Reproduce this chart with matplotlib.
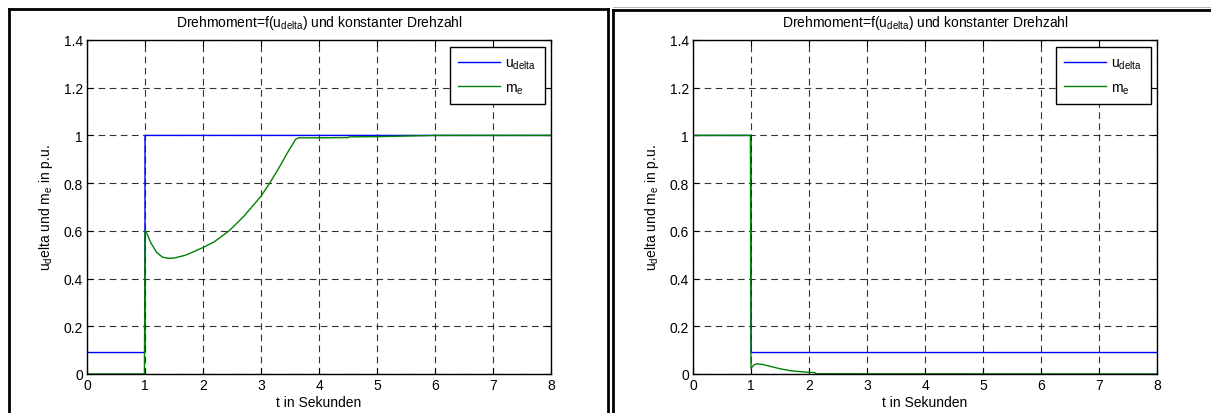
import matplotlib
matplotlib.use("Agg")
import matplotlib.pyplot as plt
from matplotlib.lines import Line2D

plt.rcParams["font.family"] = ["Liberation Sans", "DejaVu Sans"]
plt.rcParams["mathtext.fontset"] = "custom"
plt.rcParams["mathtext.rm"] = "Liberation Sans"
plt.rcParams["mathtext.it"] = "Liberation Sans"
plt.rcParams["mathtext.default"] = "regular"
plt.rcParams["font.size"] = 10

# Step of the voltage deviation and resulting torque (left: step up)
t_u_up = [0.0, 0.999, 1.0, 8.0]
u_up = [0.09, 0.09, 1.0, 1.0]
t_m_up = [0.0, 0.99, 1.0, 1.03, 1.1, 1.2, 1.3, 1.4, 1.5, 1.7, 2.0, 2.2, 2.45,
          2.7, 3.0, 3.15, 3.3, 3.45, 3.6, 3.65, 4.0, 4.5, 4.52, 5.0, 6.0, 8.0]
m_up = [0.0, 0.0, 0.6, 0.59, 0.55, 0.51, 0.49, 0.485, 0.486, 0.498, 0.53, 0.555, 0.6,
        0.66, 0.745, 0.8, 0.86, 0.925, 0.985, 0.99, 0.99, 0.991, 0.994, 0.995, 1.0, 1.0]

# Step down of the voltage deviation (right)
t_u_down = [0.0, 0.999, 1.0, 8.0]
u_down = [1.0, 1.0, 0.09, 0.09]
t_m_down = [0.0, 0.99, 1.0, 1.05, 1.1, 1.2, 1.3, 1.5, 1.7, 1.85, 2.0, 2.1, 2.12, 8.0]
m_down = [1.0, 1.0, 0.024, 0.038, 0.043, 0.04, 0.034, 0.022, 0.013, 0.01, 0.007, 0.006, 0.001, 0.0]

title = r"Drehmoment=f(u$_{delta}$) und konstanter Drehzahl"
xlabel = "t in Sekunden"
ylabel = r"u$_d$elta und m$_e$ in p.u."
labels = [r"u$_{delta}$", r"m$_e$"]
xticks = list(range(0, 9))
yticks = [0, 0.2, 0.4, 0.6, 0.8, 1.0, 1.2, 1.4]
yticklabels = ["0", "0.2", "0.4", "0.6", "0.8", "1", "1.2", "1.4"]

W, H = 1211, 414
fig = plt.figure(figsize=(W / 100, H / 100), dpi=100)

blue = "#0000ff"
green = "#008000"

panels = [
    (87, t_u_up, u_up, t_m_up, m_up),
    (693, t_u_down, u_down, t_m_down, m_down),
]

for x0, tu, u, tm, m in panels:
    ax = fig.add_axes([x0 / W, 1 - 375 / H, 464 / W, 334 / H])
    ax.plot(tu, u, color=blue, lw=1.0, label=labels[0])
    ax.plot(tm, m, color=green, lw=1.0, label=labels[1])
    ax.set_xlim(0, 8)
    ax.set_ylim(0, 1.4)
    ax.set_xticks(xticks)
    ax.set_yticks(yticks)
    ax.set_yticklabels(yticklabels)
    ax.tick_params(direction="in", top=True, right=True, length=4, width=0.8,
                   labelsize=10, pad=3)
    ax.grid(True, color="black", linestyle=(0, (6, 4)), linewidth=0.8, alpha=0.8)
    for s in ax.spines.values():
        s.set_linewidth(1.0)
    ax.set_title(title, fontsize=10, pad=10)
    ax.set_xlabel(xlabel, fontsize=10, labelpad=2)
    ax.set_ylabel(ylabel, fontsize=10, labelpad=6)
    leg = ax.legend(loc="upper right", bbox_to_anchor=(0.986, 0.978),
                    borderaxespad=0, fancybox=False, edgecolor="black",
                    framealpha=1, handlelength=3.0, handletextpad=0.4,
                    borderpad=0.6, labelspacing=0.65, fontsize=10)
    leg.get_frame().set_linewidth(1.0)

# Surrounding panel frames
def frame(x_left, x_right, y_top):
    kw = dict(color="black", lw=2.0, transform=fig.transFigure)
    fig.add_artist(Line2D([x_left / W, x_left / W], [0, 1 - y_top / H], **kw))
    fig.add_artist(Line2D([x_right / W, x_right / W], [0, 1 - y_top / H], **kw))
    fig.add_artist(Line2D([x_left / W, x_right / W], [1 - y_top / H, 1 - y_top / H], **kw))

frame(8.5, 607.5, 10)
frame(613, 1212, 10.5)
fig.add_artist(Line2D([613 / W, 1], [1 - 8 / H, 1 - 8 / H], color="#bbbbbb", lw=0.8,
                      transform=fig.transFigure))

fig.savefig("out.png", dpi=100)
